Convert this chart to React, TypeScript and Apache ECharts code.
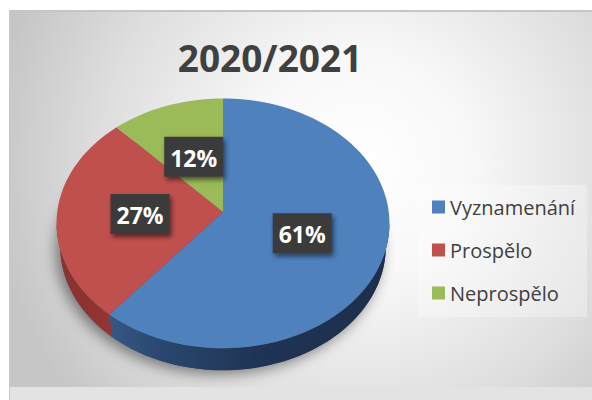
import React, { useEffect, useRef } from "react";
import * as echarts from "echarts";

const title = "2020/2021";
const categories = ["Vyznamenání", "Prospělo", "Neprospělo"];
const values = [61, 27, 12];
const colors = ["#4f81bd", "#c0504d", "#9bbb59"];
const wallColors = [
  ["#45699b", "#2a4870", "#1f3455", "#1c2e4b"],
  ["#8a302e", "#9a3a37", "#a5413e", "#a5413e"],
  ["#7a9440", "#819c45", "#86a24a", "#86a24a"],
];

// projection parameters (view geometry)
const CX = 223;
const CY = 212;
const COSA = 0.664;
const SINA = 0.747;
const DIST = 7.3;
const FOC = 1210;
const DEPTH = 0.214;
const SIL = (Math.acos(-COSA / DIST) * 180) / Math.PI; // ~95.2

function proj(phiDeg: number, t: number, y: number): number[] {
  const p = (phiDeg * Math.PI) / 180;
  const x3 = t * Math.sin(p);
  const z3 = t * Math.cos(p);
  const yc = y * COSA + z3 * SINA;
  const zc = -y * SINA + z3 * COSA + DIST;
  return [CX + (FOC * x3) / zc, CY - (FOC * yc) / zc];
}

function angles(): number[][] {
  const total = values.reduce((a, b) => a + b, 0);
  let acc = 0;
  return values.map((v) => {
    const a0 = (acc / total) * 360;
    acc += v;
    const a1 = (acc / total) * 360;
    return [a0, a1];
  });
}

function arcPoints(a0: number, a1: number, t: number, y: number): number[][] {
  const n = Math.max(2, Math.ceil(Math.abs(a1 - a0) / 2));
  const pts: number[][] = [];
  for (let k = 0; k <= n; k++) {
    pts.push(proj(a0 + ((a1 - a0) * k) / n, t, y));
  }
  return pts;
}

export default function App() {
  const ref = useRef<HTMLDivElement>(null);
  useEffect(() => {
    if (!ref.current) return;
    const chart = echarts.init(ref.current, null, { renderer: "svg" });
    const ang = angles();

    const wallSeries: any = {
      type: "custom",
      name: "walls",
      coordinateSystem: "none",
      z: 1,
      silent: true,
      data: values,
      renderItem: (params: any) => {
        const i = params.dataIndex;
        const children: any[] = [];
        if (i === 0) {
          const bottom = arcPoints(0, 360, 1, -DEPTH);
          children.push({
            type: "polygon",
            shape: { points: bottom },
            style: {
              fill: "#555",
              shadowBlur: 14,
              shadowColor: "rgba(0,0,0,0.45)",
              shadowOffsetX: -4,
              shadowOffsetY: 4,
            },
          });
        }
        const lo = Math.max(ang[i][0], SIL);
        const hi = Math.min(ang[i][1], 360 - SIL);
        if (hi > lo) {
          const top = arcPoints(lo, hi, 1, 0);
          const bot = arcPoints(hi, lo, 1, -DEPTH);
          const wc = wallColors[i];
          children.push({
            type: "polygon",
            shape: { points: top.concat(bot) },
            style: {
              fill: {
                type: "linear",
                x: 57,
                y: 0,
                x2: 390,
                y2: 0,
                global: true,
                colorStops: [
                  { offset: 0, color: wc[0] },
                  { offset: 0.3, color: wc[1] },
                  { offset: 0.6, color: wc[2] },
                  { offset: 1, color: wc[3] },
                ],
              },
            },
          });
        }
        return { type: "group", children };
      },
    };

    const topSeries: any[] = categories.map((name, i) => ({
      type: "custom",
      name,
      coordinateSystem: "none",
      z: 2,
      itemStyle: { color: colors[i] },
      data: [values[i]],
      renderItem: () => {
        const pts = arcPoints(ang[i][0], ang[i][1], 1, 0);
        pts.push(proj(0, 0, 0));
        return {
          type: "polygon",
          shape: { points: pts },
          style: { fill: colors[i] },
        };
      },
    }));

    const labelSeries: any = {
      type: "custom",
      name: "labels",
      coordinateSystem: "none",
      z: 3,
      silent: true,
      data: values,
      renderItem: (params: any) => {
        const i = params.dataIndex;
        const mid = (ang[i][0] + ang[i][1]) / 2;
        const [lx, ly] = proj(mid, 0.5, 0);
        const w = 59;
        const h = 40;
        return {
          type: "group",
          children: [
            {
              type: "rect",
              shape: { x: lx - w / 2, y: ly - h / 2, width: w, height: h },
              style: {
                fill: "#3b3b3b",
                shadowBlur: 5,
                shadowColor: "rgba(0,0,0,0.55)",
                shadowOffsetX: 2,
                shadowOffsetY: 3,
              },
            },
            {
              type: "text",
              x: lx,
              y: ly + 1,
              style: {
                text: values[i] + "%",
                fill: "#ffffff",
                fontFamily: "Open Sans",
                fontWeight: "bold",
                fontSize: 23,
                align: "center",
                verticalAlign: "middle",
              },
            },
          ],
        };
      },
    };

    const R = 370;
    chart.setOption({
      animation: false,
      graphic: [
        {
          type: "rect",
          z: -10,
          shape: { x: 9, y: 11, width: 583, height: 389 },
          style: { fill: "#c6c6c6" },
        },
        {
          type: "circle",
          z: -10,
          shape: { cx: 360, cy: 165, r: R },
          style: {
            fill: {
              type: "radial",
              x: 0.5,
              y: 0.5,
              r: 0.5,
              colorStops: [
                { offset: 0, color: "#ffffff" },
                { offset: 0.3, color: "#f8f8f8" },
                { offset: 0.7, color: "#dedede" },
                { offset: 1, color: "#c6c6c6" },
              ],
            },
          },
        },
        {
          type: "rect",
          z: -9,
          shape: { x: 0, y: 0, width: 592, height: 10 },
          style: { fill: "#ffffff" },
        },
        {
          type: "rect",
          z: -9,
          shape: { x: 0, y: 0, width: 9, height: 400 },
          style: { fill: "#ffffff" },
        },
        {
          type: "rect",
          z: -9,
          shape: { x: 9, y: 10, width: 583, height: 2 },
          style: { fill: "#c6c6c6" },
        },
        {
          type: "rect",
          z: -9,
          shape: { x: 9, y: 11, width: 1.5, height: 389 },
          style: { fill: "#c8c8c8" },
        },
        {
          type: "rect",
          z: -9,
          shape: { x: 10, y: 387, width: 582, height: 13 },
          style: { fill: "#e3e3e3" },
        },
        {
          type: "text",
          x: 270,
          y: 57,
          style: {
            text: title,
            fill: "#404040",
            fontFamily: "Open Sans",
            fontWeight: "bold",
            fontSize: 37,
            align: "center",
            verticalAlign: "middle",
          },
        },
      ],
      legend: {
        data: categories,
        orient: "vertical",
        left: 418,
        top: 185,
        padding: [12, 12, 14, 14],
        backgroundColor: "rgba(255,255,255,0.3)",
        itemWidth: 13,
        itemHeight: 13,
        itemGap: 23,
        icon: "rect",
        selectedMode: false,
        textStyle: {
          fontFamily: "Open Sans",
          fontSize: 20,
          color: "#404040",
        },
      },
      series: [wallSeries, ...topSeries, labelSeries],
    });
    return () => chart.dispose();
  }, []);
  return (
    <div
      ref={ref}
      style={{ position: "absolute", left: 0, top: 0, width: 592, height: 400 }}
    />
  );
}
